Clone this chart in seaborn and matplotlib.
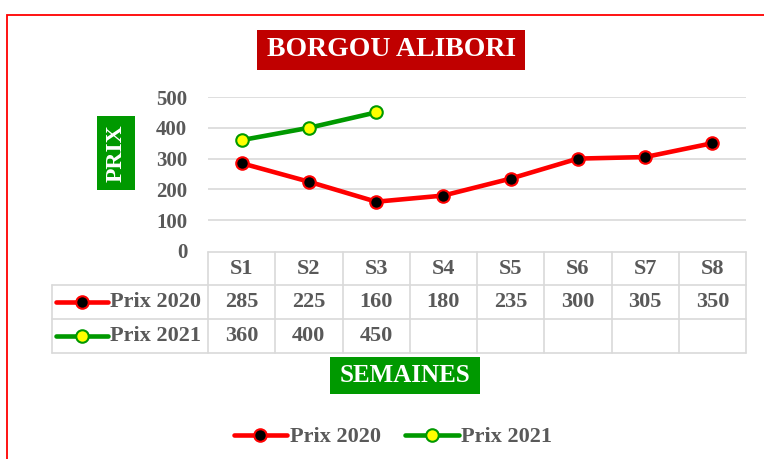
import matplotlib
matplotlib.use("Agg")
import matplotlib.pyplot as plt
import seaborn as sns
import pandas as pd
from matplotlib.patches import Rectangle
from matplotlib.lines import Line2D

# ---- data ----
weeks = ["S1", "S2", "S3", "S4", "S5", "S6", "S7", "S8"]
prix_2020 = [285, 225, 160, 180, 235, 300, 305, 350]
prix_2021 = [360, 400, 450]
series_names = ["Prix 2020", "Prix 2021"]
yticks = [0, 100, 200, 300, 400, 500]
title = "BORGOU ALIBORI"
ylabel = "PRIX"
xlabel = "SEMAINES"

sns.set_theme(style="white")
plt.rcParams["font.family"] = ["Liberation Serif", "DejaVu Serif"]

W, H = 764, 459
fig = plt.figure(figsize=(W / 100, H / 100), dpi=100)
fig.patch.set_facecolor("white")

def fx(px):
    return px / W

def fy(py):
    return 1 - py / H

TXT = "#595959"
GRID = "#d9d9d9"
RED = "#ff0000"
GREEN = "#009900"

# main axes (pixel box 208..746 x 97..251)
AX_L, AX_R, AX_T, AX_B = 208, 746, 97, 251
ax = fig.add_axes([fx(AX_L), fy(AX_B), (AX_R - AX_L) / W, (AX_B - AX_T) / H])
ax.set_facecolor("none")

df20 = pd.DataFrame({"week": weeks, "prix": prix_2020})
df21 = pd.DataFrame({"week": weeks[:len(prix_2021)], "prix": prix_2021})

sns.lineplot(data=df20, x="week", y="prix", ax=ax, color=RED, lw=3.3,
             marker="o", markersize=9, markerfacecolor="black",
             markeredgecolor=RED, markeredgewidth=1.5, zorder=5)
sns.lineplot(data=df21, x="week", y="prix", ax=ax, color=GREEN, lw=3.3,
             marker="o", markersize=9, markerfacecolor="#ffff00",
             markeredgecolor=GREEN, markeredgewidth=1.5, zorder=5)

ax.set_xlim(-0.5, len(weeks) - 0.5)
ax.set_ylim(0, 500)
ax.set_yticks(yticks)
ax.set_yticklabels([str(v) for v in yticks], fontsize=15, fontweight="bold", color=TXT)
ax.tick_params(axis="y", length=0, pad=15)
ax.set_xticks(range(len(weeks)))
ax.set_xticklabels([])
ax.tick_params(axis="x", length=0)
for v in yticks[1:]:
    ax.axhline(v, color=GRID, lw=1.2, zorder=1)
for s in ax.spines.values():
    s.set_visible(False)
ax.set_xlabel("")
ax.set_ylabel("")
ax.grid(False)

# ---- data table under the axes ----
def axx(px):
    return (px - AX_L) / (AX_R - AX_L)

def axy(py):
    return (AX_B - py) / (AX_B - AX_T)

tr = ax.transAxes
row_lines = [252, 285, 319, 353]
kw = dict(color=GRID, lw=1.2, transform=tr, clip_on=False)
ax.add_line(Line2D([axx(208), axx(746)], [axy(252)] * 2, **kw))
for py in row_lines[1:]:
    ax.add_line(Line2D([axx(52), axx(746)], [axy(py)] * 2, **kw))
ax.add_line(Line2D([axx(52)] * 2, [axy(285), axy(353)], **kw))
ncol = len(weeks)
for i in range(ncol + 1):
    x = i / ncol
    ax.add_line(Line2D([x, x], [axy(252), axy(353)], **kw))

tkw = dict(transform=tr, fontsize=16, fontweight="bold", color=TXT,
           va="center", clip_on=False)
for i, w in enumerate(weeks):
    ax.text((i + 0.5) / ncol, axy(269), w, ha="center", **tkw)
for i, v in enumerate(prix_2020):
    ax.text((i + 0.5) / ncol, axy(302), str(v), ha="center", **tkw)
for i, v in enumerate(prix_2021):
    ax.text((i + 0.5) / ncol, axy(336), str(v), ha="center", **tkw)

# legend keys in table
for py, col, face, name in [(302, RED, "black", series_names[0]),
                            (336, GREEN, "#ffff00", series_names[1])]:
    ax.add_line(Line2D([axx(56), axx(108)], [axy(py)] * 2, color=col, lw=3.3,
                       transform=tr, clip_on=False, solid_capstyle="round"))
    ax.add_line(Line2D([axx(82)], [axy(py)], marker="o", markersize=9,
                       markerfacecolor=face, markeredgecolor=col,
                       markeredgewidth=1.5, transform=tr, clip_on=False))
    ax.text(axx(110), axy(py), name, ha="left", **tkw)

# ---- title / axis label boxes ----
def box(x0, y0, x1, y1, color):
    fig.add_artist(Rectangle((fx(x0), fy(y1)), (x1 - x0) / W, (y1 - y0) / H,
                             transform=fig.transFigure, facecolor=color,
                             edgecolor="none", zorder=3))

box(257, 30, 525, 70, "#c00000")
fig.text(fx(391), fy(50), title, ha="center", va="center", color="white",
         fontsize=20, fontweight="bold", zorder=4)

box(97, 116, 135, 190, GREEN)
fig.text(fx(116.5), fy(153), ylabel, ha="center", va="center", color="white",
         fontsize=17, fontweight="bold", rotation=90, zorder=4)

box(330, 357, 480, 394, GREEN)
fig.text(fx(405), fy(375.5), xlabel, ha="center", va="center", color="white",
         fontsize=18, fontweight="bold", zorder=4)

# ---- bottom legend ----
handles = [
    Line2D([], [], color=RED, lw=3.3, marker="o", markersize=9,
           markerfacecolor="black", markeredgecolor=RED, markeredgewidth=1.5),
    Line2D([], [], color=GREEN, lw=3.3, marker="o", markersize=9,
           markerfacecolor="#ffff00", markeredgecolor=GREEN, markeredgewidth=1.5),
]
leg = fig.legend(handles, series_names, loc="center", bbox_to_anchor=(fx(393), fy(437)),
                 ncol=2, frameon=False, handlelength=2.4, handletextpad=0.12,
                 columnspacing=1.1,
                 prop={"size": 16, "weight": "bold", "family": ["Liberation Serif"]})
for t in leg.get_texts():
    t.set_color(TXT)

# ---- outer red frame ----
fig.add_artist(Rectangle((fx(6.5), -0.1), 1.2, fy(15.5) + 0.1,
                         transform=fig.transFigure, facecolor="none",
                         edgecolor=RED, lw=1.3, zorder=10))

fig.savefig("out.png", dpi=100, facecolor="white")
